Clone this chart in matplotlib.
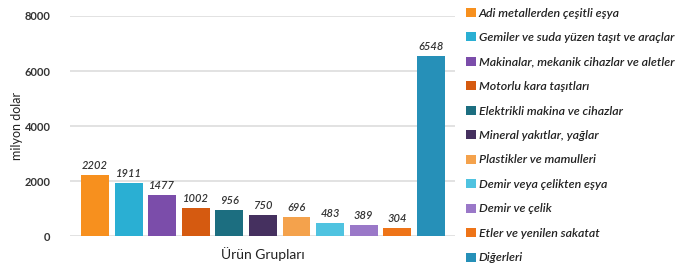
import numpy as np
from matplotlib import pyplot as plt
from matplotlib.patches import Patch

groups = ["Adi metallerden çeşitli eşya",
          "Gemiler ve suda yüzen taşıt ve araçlar",
          "Makinalar, mekanik cihazlar ve aletler",
          "Motorlu kara taşıtları",
          "Elektrikli makina ve cihazlar",
          "Mineral yakıtlar, yağlar",
          "Plastikler ve mamulleri",
          "Demir veya çelikten eşya",
          "Demir ve çelik",
          "Etler ve yenilen sakatat",
          "Diğerleri"]
values = [2202, 1911, 1477, 1002, 956, 750, 696, 483, 389, 304, 6548]
colors = ["#F7901E", "#2AAFD3", "#7B4DAA", "#D55A10", "#1C6E80",
          "#45305F", "#F4A24C", "#4FC3E0", "#9A78C8", "#EE7418", "#2690B8"]
yticks = [0, 2000, 4000, 6000, 8000]

plt.rcParams['font.family'] = ['Lato', 'DejaVu Sans']

fig = plt.figure(figsize=(6.99, 2.71), dpi=100)
ax = fig.add_axes([0.100, 0.129, 0.551, 0.812])

x = np.arange(len(values))
ax.bar(x, values, width=0.83, color=colors, edgecolor="none", zorder=3)
for xi, v in zip(x, values):
    ax.text(xi, v + 150, str(v), ha="center", va="bottom", fontsize=8,
            style="italic", fontweight="semibold", color="#333333", zorder=4)

ax.set_xlim(-0.75, 10.72)
ax.set_ylim(0, 8000)
ax.set_yticks(yticks)
ax.set_yticklabels([str(t) for t in yticks], fontsize=8, color="#333333",
                   fontweight="bold")
ax.set_xticks([])
ax.grid(axis="y", color="#dddddd", linewidth=1.2, zorder=0)
for s in ax.spines.values():
    s.set_visible(False)
ax.tick_params(axis="y", length=0, pad=14)
ax.set_ylabel("milyon dolar", fontsize=9, color="#222222", labelpad=1)
ax.set_xlabel("Ürün Grupları", fontsize=10, color="#222222", labelpad=8)

handles = [Patch(facecolor=c) for c in colors]
leg = fig.legend(handles, groups, loc="upper left", bbox_to_anchor=(0.660, 0.99),
                 frameon=False, fontsize=8.9, handlelength=0.75, handleheight=0.75,
                 handletextpad=0.25, labelspacing=1.09, borderaxespad=0)
for t in leg.get_texts():
    t.set_style("italic")
    t.set_fontweight("semibold")
    t.set_color("#222222")

fig.savefig("out.png", dpi=100)
